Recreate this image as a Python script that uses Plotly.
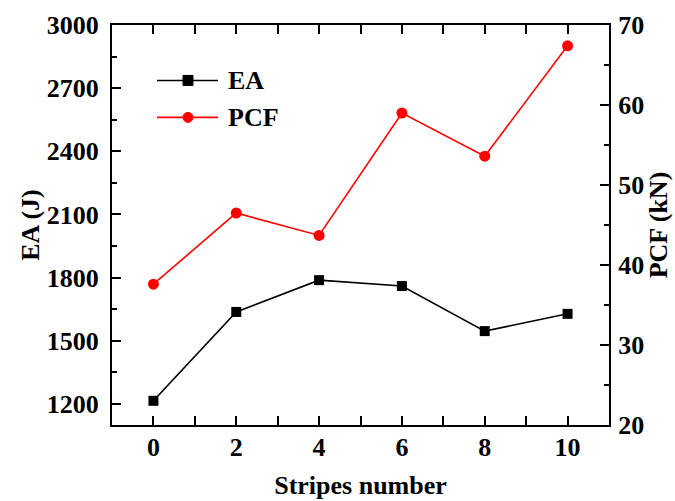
import plotly.graph_objects as go

stripes = [0, 2, 4, 6, 8, 10]
ea_values = [1215, 1637, 1788, 1760, 1546, 1628]
pcf_values = [37.6, 46.5, 43.7, 59.0, 53.6, 67.4]

FONT = "Liberation Serif, Times New Roman, serif"

fig = go.Figure()
fig.add_trace(go.Scatter(x=stripes, y=ea_values, mode="lines+markers", name="EA",
                         line=dict(color="black", width=1.6),
                         marker=dict(symbol="square", size=10, color="black"),
                         yaxis="y"))
fig.add_trace(go.Scatter(x=stripes, y=pcf_values, mode="lines+markers", name="PCF",
                         line=dict(color="#ff0000", width=1.6),
                         marker=dict(symbol="circle", size=11, color="#ff0000"),
                         yaxis="y2"))

# custom legend (styling only)
legend_items = [("EA", "black", "rect", 0.8614), ("PCF", "#ff0000", "circle", 0.769)]
for name, col, shp, yy in legend_items:
    fig.add_shape(type="line", xref="paper", yref="paper", x0=0.0905, x1=0.2133, y0=yy, y1=yy,
                  line=dict(color=col, width=1.6))
    fig.add_shape(type=shp, xref="paper", yref="paper", xsizemode="pixel", ysizemode="pixel",
                  xanchor=0.1529, yanchor=yy, x0=-5, x1=5, y0=-5, y1=5,
                  fillcolor=col, line=dict(color=col, width=1))
    fig.add_annotation(x=0.2294, y=yy, xref="paper", yref="paper", text=f"<b>{name}</b>",
                       showarrow=False, xanchor="left", yanchor="middle",
                       font=dict(family=FONT, size=26, color="black"))

axis_common = dict(showline=True, linecolor="black", linewidth=2, ticks="inside",
                   ticklen=9, tickwidth=2, tickcolor="black", showgrid=False, zeroline=False,
                   automargin=False,
                   tickfont=dict(family=FONT, size=26, color="black"))

fig.update_layout(
    width=675, height=501,
    margin=dict(l=112, r=66, t=24.5, b=76),
    paper_bgcolor="white", plot_bgcolor="white",
    showlegend=False,
    xaxis=dict(range=[-1, 11], tick0=0, dtick=2, mirror="allticks",
               tickprefix="<b>", ticksuffix="</b>", ticklabelstandoff=-2,
               minor=dict(ticks="inside", ticklen=5, tickwidth=2, tickcolor="black", dtick=1, tick0=0),
               title=dict(text="<b>Stripes number</b>", font=dict(family=FONT, size=26, color="black"), standoff=15),
               **axis_common),
    yaxis=dict(range=[1100, 3000], tick0=0, dtick=300,
               tickprefix="<b>", ticksuffix="</b>", ticklabelstandoff=6,
               minor=dict(ticks="inside", ticklen=5, tickwidth=2, tickcolor="black", dtick=150, tick0=0),
               title=dict(text="<b>EA (J)</b>", font=dict(family=FONT, size=26, color="black"), standoff=0),
               **axis_common),
    yaxis2=dict(range=[20, 70], tick0=0, dtick=10, overlaying="y", side="right",
                tickprefix="<b>", ticksuffix="</b>", ticklabelstandoff=2,
                minor=dict(ticks="inside", ticklen=5, tickwidth=2, tickcolor="black", dtick=5, tick0=0),
                title=dict(text="<b>PCF (kN)</b>", font=dict(family=FONT, size=26, color="black"), standoff=4),
                **axis_common),
)

fig.write_html("out.html")
